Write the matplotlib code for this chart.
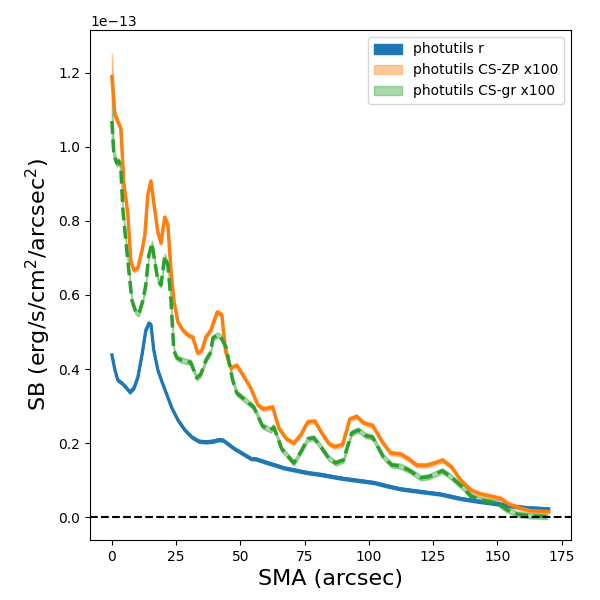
import matplotlib
matplotlib.use('Agg')
import matplotlib.pyplot as plt
import numpy as np

# surface brightness profiles, in units of 1e-13 erg/s/cm^2/arcsec^2
sma_r = np.array([0.0, 1.2, 2.3, 3.9, 5.4, 7.0, 8.6, 10.1, 11.7, 13.2, 14.4, 15.2, 16.3,
                  17.9, 19.5, 21.4, 23.3, 25.7, 28.4, 31.1, 33.8, 36.6, 39.3, 41.6, 43.2,
                  47.4, 54.1, 56.0, 60.5, 66.9, 76.1, 81.3, 89.3, 95.7, 102.1, 107.2,
                  112.4, 118.9, 127.9, 135.7, 142.2, 150.0, 155.2, 161.6, 170.0])
sb_r = np.array([0.438, 0.397, 0.370, 0.362, 0.351, 0.338, 0.349, 0.378, 0.438, 0.505,
                 0.524, 0.520, 0.451, 0.397, 0.365, 0.330, 0.295, 0.262, 0.235, 0.216,
                 0.205, 0.203, 0.205, 0.209, 0.208, 0.186, 0.158, 0.157, 0.147, 0.133,
                 0.120, 0.115, 0.105, 0.099, 0.093, 0.084, 0.076, 0.070, 0.062, 0.050,
                 0.043, 0.036, 0.030, 0.025, 0.022])
err_r = 0.004

sma_zp = np.array([0.0, 1.2, 2.3, 3.5, 4.7, 6.2, 7.4, 8.6, 10.1, 11.7, 12.8, 14.0, 15.2,
                   16.7, 17.9, 19.1, 20.6, 21.8, 23.0, 24.1, 25.7, 27.6, 30.0, 31.5,
                   33.4, 35.0, 36.6, 38.5, 41.0, 42.8, 44.3, 46.3, 48.6, 51.0, 54.0,
                   56.8, 59.0, 62.6, 65.0, 68.0, 70.8, 73.5, 76.2, 79.0, 81.7, 84.4,
                   86.7, 89.8, 92.6, 95.3, 98.0, 101.5, 105.4, 108.5, 112.4, 115.5,
                   118.6, 122.5, 125.6, 128.7, 132.2, 135.7, 139.6, 143.5, 148.2,
                   151.3, 154.4, 159.0, 163.0, 170.0])
sb_zp = np.array([1.190, 1.086, 1.070, 1.050, 0.900, 0.820, 0.690, 0.667, 0.673, 0.720,
                  0.760, 0.870, 0.908, 0.830, 0.770, 0.740, 0.810, 0.790, 0.667, 0.586,
                  0.527, 0.505, 0.490, 0.486, 0.443, 0.450, 0.486, 0.505, 0.554, 0.546,
                  0.446, 0.403, 0.410, 0.384, 0.349, 0.303, 0.292, 0.297, 0.240, 0.211,
                  0.200, 0.222, 0.257, 0.259, 0.227, 0.199, 0.190, 0.196, 0.265, 0.272,
                  0.254, 0.247, 0.201, 0.173, 0.170, 0.157, 0.140, 0.140, 0.146, 0.154,
                  0.135, 0.100, 0.073, 0.062, 0.055, 0.050, 0.035, 0.024, 0.017, 0.015])
err_zp_start = np.array([0.062, 0.012, 0.010])
err_zp = 0.006

sma_gr = np.array([0.0, 0.8, 1.9, 2.7, 3.5, 4.3, 5.4, 6.6, 7.8, 9.3, 10.5, 12.1, 13.2,
                   14.4, 15.6, 16.7, 17.9, 19.1, 20.6, 21.8, 23.0, 24.1, 25.3, 27.2,
                   29.2, 30.7, 33.0, 34.6, 36.6, 38.5, 39.3, 41.2, 42.4, 44.4, 47.0,
                   48.6, 55.2, 58.6, 61.8, 63.0, 66.1, 70.8, 73.5, 76.2, 78.6, 81.3,
                   84.4, 87.1, 90.1, 93.3, 95.9, 98.8, 101.4, 105.6, 108.8, 112.4,
                   115.5, 120.2, 123.3, 128.6, 131.9, 136.9, 139.6, 143.5, 150.0,
                   153.9, 157.7, 162.9, 169.3])
sb_gr = np.array([1.070, 0.978, 0.957, 0.962, 0.940, 0.830, 0.750, 0.667, 0.586, 0.554,
                  0.549, 0.586, 0.627, 0.708, 0.740, 0.690, 0.640, 0.627, 0.705, 0.680,
                  0.586, 0.451, 0.430, 0.424, 0.420, 0.418, 0.376, 0.386, 0.424, 0.446,
                  0.484, 0.492, 0.486, 0.459, 0.370, 0.335, 0.297, 0.246, 0.235, 0.243,
                  0.184, 0.146, 0.176, 0.211, 0.214, 0.190, 0.159, 0.146, 0.154, 0.227,
                  0.235, 0.220, 0.216, 0.163, 0.141, 0.137, 0.127, 0.106, 0.109, 0.125,
                  0.109, 0.078, 0.057, 0.046, 0.038, 0.019, 0.008, 0.003, 0.001])
err_gr_start = np.array([0.065, 0.012, 0.010])
err_gr = 0.007

scale = 1e-13


def errors(n, start, rest):
    e = np.full(n, rest)
    e[:len(start)] = start
    return e


fig, ax = plt.subplots(figsize=(6, 6), dpi=100)
fig.subplots_adjust(left=0.15, right=0.951, bottom=0.1, top=0.95)

# r band
ax.fill_between(sma_r, (sb_r - err_r) * scale, (sb_r + err_r) * scale,
                color='C0', alpha=1.0, label='photutils r')
ax.plot(sma_r, sb_r * scale, color='C0', lw=2.3)

# CS-ZP x100
e = errors(len(sma_zp), err_zp_start, err_zp)
ax.fill_between(sma_zp, (sb_zp - e) * scale, (sb_zp + e) * scale,
                color='C1', alpha=0.4, label='photutils CS-ZP x100')
ax.plot(sma_zp, sb_zp * scale, color='C1', lw=2.5)

# CS-gr x100
e = errors(len(sma_gr), err_gr_start, err_gr)
ax.fill_between(sma_gr, (sb_gr - e) * scale, (sb_gr + e) * scale,
                color='C2', alpha=0.4, label='photutils CS-gr x100')
ax.plot(sma_gr, sb_gr * scale, color='C2', lw=2.5, ls='--')

ax.axhline(0, color='k', ls='--', lw=1.5)

ax.set_ylim(-0.062e-13, 1.316e-13)
ax.set_xlabel('SMA (arcsec)', fontsize=16)
ax.set_ylabel('SB (erg/s/cm$^2$/arcsec$^2$)', fontsize=16)
ax.legend(loc='upper right')

fig.savefig('out.png', dpi=100)
